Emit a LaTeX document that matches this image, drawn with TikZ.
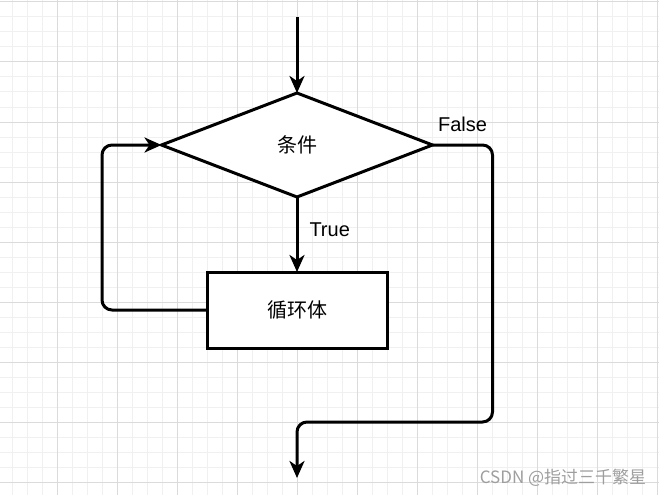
\documentclass[tikz,border=0pt]{standalone}
\usepackage{fontspec}
\setmainfont{Liberation Sans}
\newfontfamily\cjk{Noto Sans CJK SC}
\usetikzlibrary{arrows.meta}
\usetikzlibrary{shapes.geometric}
\usetikzlibrary{calc}
\usetikzlibrary{positioning}

\begin{document}
\begin{tikzpicture}[x=1pt,y=-1pt,
->,>={Stealth[length=17pt,width=15pt,inset=5pt]},
line width=3pt,
flownode/.style = {align=center, inner sep=0pt, outer sep=0pt, text centered, draw=black, line width=3pt, fill=white, font=\cjk\fontsize{20}{24}\selectfont},
dia_n/.style = {flownode, diamond, minimum width=271pt, minimum height=104pt},
box_n/.style = {flownode, rectangle, minimum width=180pt, minimum height=76pt},
lbl/.style = {font=\fontsize{20}{24}\selectfont, inner sep=0pt},
grid_minor/.style = {-, line width=1pt, draw=black!6},
grid_major/.style = {-, line width=1pt, draw=black!14}
]
\useasboundingbox (0,0) rectangle (659,495);
\fill[white] (0,0) rectangle (659,495);
% background grid
\foreach \x in {-3,12,...,659} \draw[grid_minor] (\x,0) -- (\x,495);
\foreach \y in {2,17,...,495} \draw[grid_minor] (0,\y) -- (659,\y);
\foreach \x in {57,117,...,659} \draw[grid_major] (\x,0) -- (\x,495);
\foreach \y in {2,62,...,495} \draw[grid_major] (0,\y) -- (659,\y);

\node (C) [dia_n] at (297,145) {条件};
\node (B) [box_n, below=75pt of C] {循环体};

\coordinate (IN) at (297,17);
\coordinate (OUT) at (297,478);

\draw (IN) -- (C.north);
\draw (C.south) -- node[lbl, anchor=west, pos=0.43, xshift=11pt] {True} (B.north);
\draw[rounded corners=10pt] (B.west) -- ++(-105,0) |- (C.west);
\draw[rounded corners=10pt] (C.east) -- node[lbl, above=12pt] {False} ++(60,0) -- ++(0,277) -| (OUT);

\node (W) [font=\cjk\fontsize{17}{20}\selectfont, text=black!38, inner sep=0pt] at (563,478) {CSDN @指过三千繁星};
\end{tikzpicture}
\end{document}
